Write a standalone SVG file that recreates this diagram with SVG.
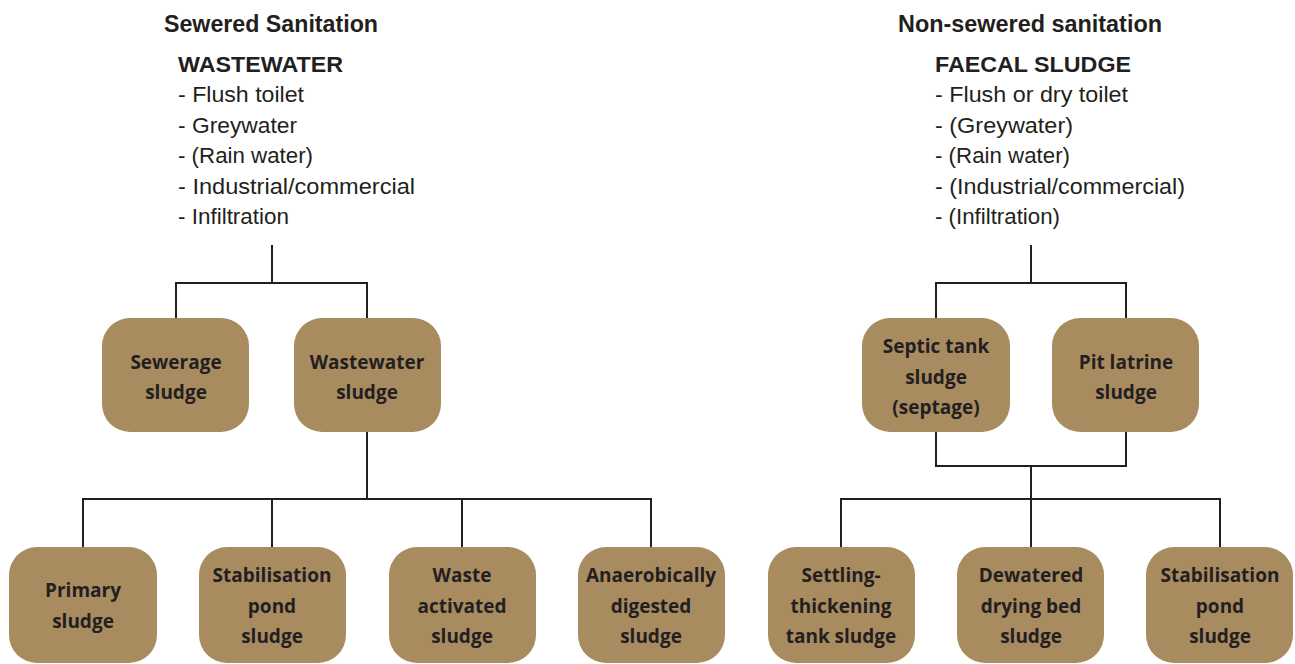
<svg xmlns="http://www.w3.org/2000/svg" width="1295" height="664" viewBox="0 0 1295 664">
<style>
.h{font-family:"Liberation Sans",Arial,sans-serif;font-weight:bold;font-size:23px;fill:#231f20}
.h2{font-family:"Liberation Sans",Arial,sans-serif;font-weight:bold;font-size:22px;fill:#231f20}
.li{font-family:"Liberation Sans",Arial,sans-serif;font-size:22px;fill:#231f20}
.box{fill:#a98b60}
.t{font-family:"Open Sans","Lato",sans-serif;font-weight:bold;font-size:19px;fill:#231f20;text-anchor:middle}
.c{stroke:#231f20;stroke-width:2;fill:none}
</style>
<g id="header-left">
<text class="h" x="164" y="32" textLength="214" lengthAdjust="spacingAndGlyphs">Sewered Sanitation</text>
<text class="h2" x="178" y="72" textLength="165" lengthAdjust="spacingAndGlyphs">WASTEWATER</text>
<text class="li" x="178" y="102" textLength="126" lengthAdjust="spacingAndGlyphs">- Flush toilet</text>
<text class="li" x="178" y="132.5" textLength="119" lengthAdjust="spacingAndGlyphs">- Greywater</text>
<text class="li" x="178" y="163" textLength="135" lengthAdjust="spacingAndGlyphs">- (Rain water)</text>
<text class="li" x="178" y="193.5" textLength="237" lengthAdjust="spacingAndGlyphs">- Industrial/commercial</text>
<text class="li" x="178" y="224" textLength="111" lengthAdjust="spacingAndGlyphs">- Infiltration</text>
</g>
<g id="header-right">
<text class="h" x="898" y="32" textLength="264" lengthAdjust="spacingAndGlyphs">Non-sewered sanitation</text>
<text class="h2" x="935" y="72" textLength="196" lengthAdjust="spacingAndGlyphs">FAECAL SLUDGE</text>
<text class="li" x="935" y="102" textLength="193" lengthAdjust="spacingAndGlyphs">- Flush or dry toilet</text>
<text class="li" x="935" y="132.5" textLength="138" lengthAdjust="spacingAndGlyphs">- (Greywater)</text>
<text class="li" x="935" y="163" textLength="135" lengthAdjust="spacingAndGlyphs">- (Rain water)</text>
<text class="li" x="935" y="193.5" textLength="250" lengthAdjust="spacingAndGlyphs">- (Industrial/commercial)</text>
<text class="li" x="935" y="224" textLength="125" lengthAdjust="spacingAndGlyphs">- (Infiltration)</text>
</g>
<g id="connectors" class="c">
<path d="M272 245V283M176 318V283H367V318"/>
<path d="M367 432V499M83 547V499H651V547M272 499V547M462 499V547"/>
<path d="M1031 245V283M936 318V283H1126V318"/>
<path d="M936 432V466H1126V432M1031 466V499M841 547V499H1220V547M1031 499V547"/>
</g>
<g id="sewerage-sludge"><rect class="box" x="102" y="318" width="147" height="114" rx="28"/><text class="t"><tspan x="176" y="369">Sewerage</tspan><tspan x="176" y="399">sludge</tspan></text></g>
<g id="wastewater-sludge"><rect class="box" x="294" y="318" width="147" height="114" rx="28"/><text class="t"><tspan x="367" y="369">Wastewater</tspan><tspan x="367" y="399">sludge</tspan></text></g>
<g id="septic-tank-sludge"><rect class="box" x="862" y="318" width="148" height="114" rx="28"/><text class="t"><tspan x="936" y="353">Septic tank</tspan><tspan x="936" y="384">sludge</tspan><tspan x="936" y="414">(septage)</tspan></text></g>
<g id="pit-latrine-sludge"><rect class="box" x="1052" y="318" width="147" height="114" rx="28"/><text class="t"><tspan x="1126" y="369">Pit latrine</tspan><tspan x="1126" y="399">sludge</tspan></text></g>
<g id="primary-sludge"><rect class="box" x="9" y="547" width="148" height="116" rx="28"/><text class="t"><tspan x="83" y="597">Primary</tspan><tspan x="83" y="628">sludge</tspan></text></g>
<g id="stabilisation-pond-sludge-1"><rect class="box" x="199" y="547" width="147" height="116" rx="28"/><text class="t"><tspan x="272" y="582">Stabilisation</tspan><tspan x="272" y="613">pond</tspan><tspan x="272" y="643">sludge</tspan></text></g>
<g id="waste-activated-sludge"><rect class="box" x="389" y="547" width="147" height="116" rx="28"/><text class="t"><tspan x="462" y="582">Waste</tspan><tspan x="462" y="613">activated</tspan><tspan x="462" y="643">sludge</tspan></text></g>
<g id="anaerobically-digested-sludge"><rect class="box" x="578" y="547" width="147" height="116" rx="28"/><text class="t"><tspan x="651" y="582">Anaerobically</tspan><tspan x="651" y="613">digested</tspan><tspan x="651" y="643">sludge</tspan></text></g>
<g id="settling-thickening-tank-sludge"><rect class="box" x="768" y="547" width="147" height="116" rx="28"/><text class="t"><tspan x="841" y="582">Settling-</tspan><tspan x="841" y="613">thickening</tspan><tspan x="841" y="643">tank sludge</tspan></text></g>
<g id="dewatered-drying-bed-sludge"><rect class="box" x="957" y="547" width="147" height="116" rx="28"/><text class="t"><tspan x="1031" y="582">Dewatered</tspan><tspan x="1031" y="613">drying bed</tspan><tspan x="1031" y="643">sludge</tspan></text></g>
<g id="stabilisation-pond-sludge-2"><rect class="box" x="1146" y="547" width="147" height="116" rx="28"/><text class="t"><tspan x="1220" y="582">Stabilisation</tspan><tspan x="1220" y="613">pond</tspan><tspan x="1220" y="643">sludge</tspan></text></g>
</svg>
